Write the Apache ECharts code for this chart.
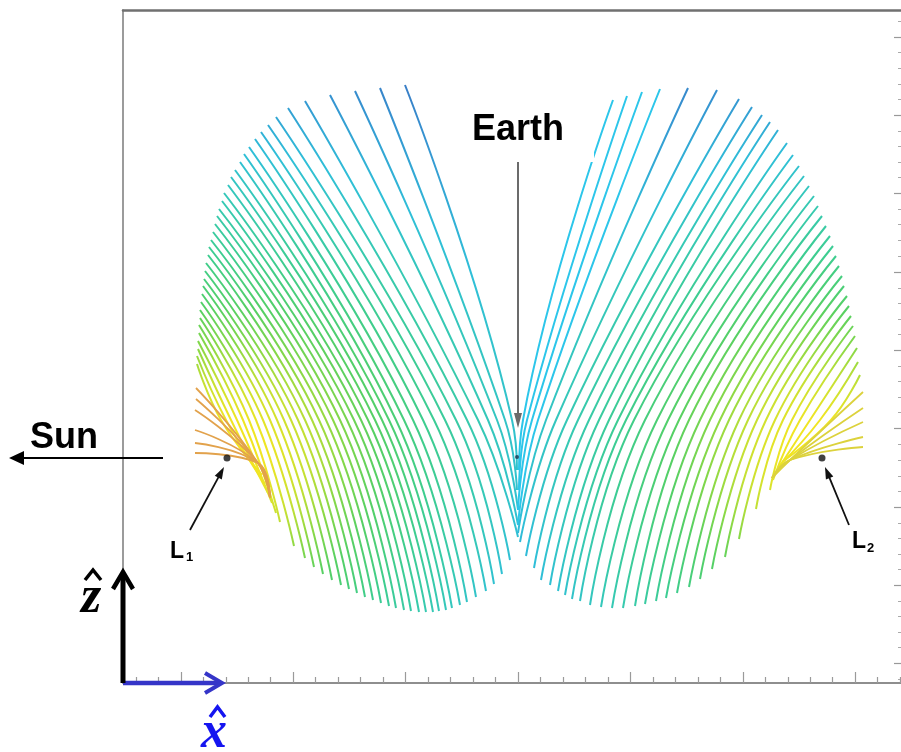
<!DOCTYPE html>
<html><head><meta charset="utf-8">
<script src="https://cdn.jsdelivr.net/npm/echarts@6/dist/echarts.min.js"></script>
<style>html,body{margin:0;padding:0;background:#fff}#c{width:901px;height:752px}</style>
</head><body><div id="c"></div>
<script>
// ---- data (x: along Sun-Earth line, z: out of plane; Earth at origin) ----
const leftTop = [[-11.3,37.3],[-13.8,37.0],[-16.3,36.7],[-18.8,36.3],[-21.3,35.7],[-23.0,35.0],[-24.2,34.1],[-25.0,33.3],[-25.7,32.6],[-26.3,31.9],[-26.9,31.1],[-27.4,30.4],[-27.8,29.6],[-28.3,28.8],[-28.7,28.1],[-29.0,27.3],[-29.4,26.5],[-29.6,25.7],[-29.9,24.9],[-30.1,24.2],[-30.3,23.4],[-30.5,22.6],[-30.7,21.8],[-30.9,21.1],[-31.0,20.3],[-31.2,19.5],[-31.3,18.7],[-31.4,17.9],[-31.5,17.2],[-31.6,16.4],[-31.7,15.6],[-31.8,14.8],[-31.8,14.0],[-31.9,13.3],[-31.9,12.5],[-32.0,11.7],[-32.0,10.9],[-32.1,10.2],[-32.1,9.4]];
const leftMid = [[-0.6,3.8],[-1.3,3.8],[-2.1,3.8],[-3.0,3.8],[-4.0,3.8],[-5.1,3.8],[-6.2,3.8],[-7.3,3.8],[-8.4,3.8],[-9.5,3.8],[-10.5,3.8],[-11.4,3.8],[-12.2,3.8],[-12.9,3.8],[-13.6,3.8],[-14.3,3.8],[-15.0,3.8],[-15.7,3.8],[-16.4,3.8],[-17.1,3.8],[-17.8,3.8],[-18.5,3.8],[-19.2,3.8],[-19.9,3.8],[-20.6,3.8],[-21.3,3.8],[-22.0,3.8],[-22.7,3.8],[-23.4,3.8],[-24.1,3.8],[-24.8,3.8],[-25.5,3.8],[-26.2,3.8],[-26.9,3.8],[-27.5,3.8],[-28.1,3.8],[-28.7,3.8],[-29.2,3.8],[-29.7,3.8]];
const leftBot = [[-0.1,-1.2],[-0.1,-3.2],[0.0,-5.2],[0.0,-6.7],[0.0,-7.9],[-0.8,-10.2],[-1.6,-11.6],[-2.4,-12.6],[-3.2,-13.3],[-4.2,-13.9],[-5.1,-14.4],[-5.8,-14.7],[-6.6,-15.0],[-7.2,-15.2],[-7.9,-15.3],[-8.5,-15.4],[-9.2,-15.4],[-9.9,-15.4],[-10.7,-15.3],[-11.4,-15.2],[-12.2,-15.0],[-12.9,-14.8],[-13.7,-14.5],[-14.5,-14.2],[-15.3,-13.9],[-16.1,-13.5],[-16.9,-13.1],[-17.7,-12.7],[-18.6,-12.2],[-19.5,-11.6],[-20.4,-10.9],[-21.3,-10.0],[-22.4,-8.8],[-23.8,-6.4],[-24.2,-5.5],[-24.6,-4.5],[-25.0,-3.5],[-25.3,-2.6],[-25.6,-1.7]];

const rightTop = [[9.5,35.8],[10.9,36.2],[12.4,36.6],[14.2,36.9],[17.0,37.0],[19.9,36.8],[22.1,35.9],[23.4,35.1],[24.4,34.3],[25.2,33.6],[26.0,32.8],[26.9,31.5],[27.5,30.3],[28.1,29.2],[28.6,28.2],[29.1,27.2],[29.6,26.2],[30.0,25.2],[30.4,24.2],[30.8,23.2],[31.2,22.2],[31.5,21.2],[31.8,20.2],[32.1,19.2],[32.4,18.2],[32.6,17.2],[32.9,16.2],[33.1,15.2],[33.3,14.2],[33.5,13.2],[33.7,12.2],[33.9,11.0],[34.0,9.6],[34.2,8.3]];
const rightMid = [[0.5,3.8],[0.9,3.8],[1.4,3.8],[2.0,3.8],[2.8,3.8],[3.8,3.8],[4.9,3.8],[6.0,3.8],[7.1,3.8],[8.1,3.8],[9.1,3.8],[10.0,3.8],[10.8,3.8],[11.6,3.8],[12.7,3.8],[13.9,3.8],[15.0,3.8],[16.1,3.8],[17.1,3.8],[18.2,3.8],[19.2,3.8],[20.2,3.8],[21.1,3.8],[22.1,3.8],[23.0,3.8],[23.9,3.8],[24.8,3.8],[25.7,3.8],[26.5,3.8],[27.4,3.8],[28.2,3.8],[29.2,3.8],[30.2,3.8],[31.3,3.8]];
const rightBot = [[0.1,-1.2],[0.1,-3.2],[0.0,-5.2],[0.0,-6.7],[0.0,-7.5],[0.2,-8.4],[0.8,-9.8],[1.6,-11.0],[2.3,-12.2],[3.2,-12.7],[4.0,-13.3],[4.7,-13.7],[5.4,-14.1],[6.2,-14.3],[7.2,-14.7],[8.3,-14.9],[9.4,-15.0],[10.5,-15.0],[11.7,-14.8],[12.7,-14.6],[13.8,-14.3],[14.8,-14.0],[15.9,-13.5],[17.1,-12.9],[18.2,-12.1],[19.4,-11.1],[20.7,-9.9],[22.1,-8.1],[23.8,-5.1],[25.2,-3.2],[25.5,-2.2],[25.8,-1.4],[26.1,-0.8],[26.4,-0.4]];

const l1StubStart = [[-32.2,7.0],[-32.2,5.9],[-32.3,4.8],[-32.3,2.8],[-32.3,1.5],[-32.3,0.5]];
const l1StubKnee = [-26.0,-0.5];
const l1StubEnd = [-24.8,-4.0];
const l2StubStart = [[34.5,6.6],[34.5,5.0],[34.5,3.6],[34.5,2.1],[34.5,1.1]];
const l2StubKnee = [27.2,-0.2];
const l2StubEnd = [25.4,-2.0];

const libPoints = [[-29.1,0],[30.4,0]];   // L1, L2
const earthPoint = [[-0.1,0.1]];

const xMajorTicks = [-33.72,-22.48,-11.24,0,11.24,22.48,33.72];
const xMinorTicks = [-38.21,-35.96,-31.47,-29.22,-26.98,-24.73,-20.23,-17.98,-15.74,-13.49,-8.99,-6.74,-4.50,-2.25,2.25,4.50,6.74,8.99,13.49,15.74,17.98,20.23,24.73,26.98,29.22,31.47,35.96,38.21];
const zMajorTicks = [42.1,34.3,26.5,18.6,10.8,3.0,-4.9,-12.7,-20.5];
const zMinorTicks = [43.7,40.6,39.0,37.4,35.9,32.7,31.2,29.6,28.1,24.9,23.4,21.8,20.2,17.0,15.5,13.9,12.4,9.2,7.7,6.1,4.6,1.4,-0.2,-1.8,-3.3,-6.5,-8.0,-9.6,-11.1,-14.3,-15.8,-17.4,-18.9,-22.1];

// annotation anchors (data units)
const sunArrow = [[-35.5,0],[-50.9,0]];
const earthArrow = [[0,29.8],[0,3.0]];
const l1Arrow = [[-32.8,-7.2],[-29.4,-0.9]];
const l2Arrow = [[33.1,-6.7],[30.7,-0.9]];
const xHatArrow = [[-39.5,-22.5],[-29.6,-22.5]];
const zHatArrow = [[-39.5,-22.5],[-39.5,-11.4]];

// ---- chart ----
const chart = echarts.init(document.getElementById('c'), null, {renderer:'canvas', width:901, height:752});
const XMIN=-39.5, XMAX=38.3, ZMIN=-22.5, ZMAX=44.8;
const noLbl = {show:false};
const base = {
  animation:false,
  grid:{left:123, right:0, top:10, bottom:69, containLabel:false},
  xAxis:[
    {type:'value', min:XMIN, max:XMAX, position:'bottom', axisLine:{show:true, onZero:false, lineStyle:{color:'#6a6a6a', width:1.5}},
     axisTick:{show:true, inside:true, length:11, customValues:xMajorTicks, lineStyle:{color:'#9a9a9a', width:1.2}}, axisLabel:noLbl, splitLine:{show:false}},
    {type:'value', min:XMIN, max:XMAX, position:'bottom', axisLine:{show:false, onZero:false},
     axisTick:{show:true, inside:true, length:6, customValues:xMinorTicks, lineStyle:{color:'#9a9a9a', width:1.2}}, axisLabel:noLbl, splitLine:{show:false}},
    {type:'value', min:XMIN, max:XMAX, position:'top', axisLine:{show:true, onZero:false, lineStyle:{color:'#707070', width:2.5}},
     axisTick:{show:false}, axisLabel:noLbl, splitLine:{show:false}}
  ],
  yAxis:[
    {type:'value', min:ZMIN, max:ZMAX, position:'left', axisLine:{show:true, onZero:false, lineStyle:{color:'#7a7a7a', width:1.5}},
     axisTick:{show:false}, axisLabel:noLbl, splitLine:{show:false}},
    {type:'value', min:ZMIN, max:ZMAX, position:'right', axisLine:{show:false, onZero:false},
     axisTick:{show:true, inside:true, length:7, customValues:zMajorTicks, lineStyle:{color:'#999', width:1.2}}, axisLabel:noLbl, splitLine:{show:false}},
    {type:'value', min:ZMIN, max:ZMAX, position:'right', axisLine:{show:false, onZero:false},
     axisTick:{show:true, inside:true, length:3, customValues:zMinorTicks, lineStyle:{color:'#aaa', width:1}}, axisLabel:noLbl, splitLine:{show:false}}
  ],
  series:[]
};
chart.setOption(base);
const P = v => chart.convertToPixel({xAxisIndex:0, yAxisIndex:0}, v);

// colour by distance from the libration point
const R = 430;
const stopsPx = [[0,'#f5e41a'],[40,'#efe524'],[80,'#c4e034'],[115,'#86d848'],[150,'#56d064'],[200,'#3ecd8e'],[255,'#36c9b4'],[305,'#2fbfd8'],[370,'#3596d2'],[430,'#3b74c2']];
function radial(c){
  return new echarts.graphic.RadialGradient(c[0], c[1], R, stopsPx.map(s=>({offset:s[0]/R, color:s[1]})), true);
}
const c1 = P(libPoints[0]), c2 = P(libPoints[1]);
const g1 = radial(c1), g2 = radial(c2);

const series = [];
function curve(data, color, w){
  series.push({type:'line', data, smooth:0.45, symbol:'none', silent:true, z:2,
    lineStyle:{width:w||2, color}});
}
for (let i=0;i<leftTop.length;i++) curve([leftTop[i], leftMid[i], leftBot[i]], g1);
for (let i=0;i<rightTop.length;i++) curve([rightTop[i], rightMid[i], rightBot[i]], i<4 ? '#2cc6ea' : g2);
l1StubStart.forEach(s => curve([s, l1StubKnee, l1StubEnd], '#e2a24c', 1.8));
l2StubStart.forEach(s => curve([s, l2StubKnee, l2StubEnd], '#dcd23c', 1.8));
series.push({type:'scatter', data:libPoints, symbolSize:7, itemStyle:{color:'#111'}, z:5, silent:true});
series.push({type:'scatter', data:earthPoint, symbolSize:4, itemStyle:{color:'#1d3550'}, z:5, silent:true});

// ---- annotations ----
const graphic = [];
function arrowLine(pair, color, lw, hl, hw){
  const a = P(pair[0]), b = P(pair[1]);
  const dx=b[0]-a[0], dy=b[1]-a[1], L=Math.hypot(dx,dy), ux=dx/L, uy=dy/L;
  const bx=b[0]-ux*hl, by=b[1]-uy*hl;
  graphic.push({type:'line', z:50, shape:{x1:a[0],y1:a[1],x2:bx+ux*1,y2:by+uy*1}, style:{stroke:color, lineWidth:lw}});
  graphic.push({type:'polygon', z:50, shape:{points:[[b[0],b[1]],[bx-uy*hw,by+ux*hw],[bx+uy*hw,by-ux*hw]]}, style:{fill:color}});
}
function chevronArrow(pair, color, lw, hl, hw){
  const a = P(pair[0]), b = P(pair[1]);
  const dx=b[0]-a[0], dy=b[1]-a[1], L=Math.hypot(dx,dy), ux=dx/L, uy=dy/L;
  const bx=b[0]-ux*hl, by=b[1]-uy*hl;
  graphic.push({type:'line', z:60, shape:{x1:a[0],y1:a[1],x2:b[0]-ux*2,y2:b[1]-uy*2}, style:{stroke:color, lineWidth:lw}});
  graphic.push({type:'polyline', z:60, shape:{points:[[bx-uy*hw,by+ux*hw],[b[0],b[1]],[bx+uy*hw,by-ux*hw]]}, style:{stroke:color, lineWidth:lw-0.5, lineJoin:'miter', fill:null}});
}
function text(v, str, font, color, align, extra){
  const p = P(v);
  graphic.push({type:'text', z:70, x:p[0], y:p[1], style:Object.assign({text:str, font, fill:color, align, verticalAlign:'middle'}, extra||{})});
}
function hat(pts, color){
  graphic.push({type:'polyline', z:70, shape:{points:pts.map(P)}, style:{stroke:color, lineWidth:3.5, fill:null, lineJoin:'miter'}});
}
const SANS = '"Liberation Sans", Arial, Helvetica, sans-serif';
const SERIF = '"Liberation Serif", "Times New Roman", serif';

text([0,32.8], 'Earth', 'bold 36px '+SANS, '#000', 'center', {backgroundColor:'#fff', padding:[14,30,14,30]});
arrowLine(earthArrow, '#6b6b6b', 2, 15, 4);
text([-48.8,1.95], 'Sun', 'bold 36px '+SANS, '#000', 'left');
arrowLine(sunArrow, '#000', 2, 15, 7);
arrowLine(l1Arrow, '#111', 1.8, 12, 4);
arrowLine(l2Arrow, '#111', 1.8, 12, 4);
text([-34.8,-9.35], 'L', 'bold 23px '+SANS, '#000', 'left');
text([-33.2,-9.95], '1', 'bold 13px '+SANS, '#000', 'left');
text([33.4,-8.35], 'L', 'bold 23px '+SANS, '#000', 'left');
text([34.9,-9.0], '2', 'bold 13px '+SANS, '#000', 'left');
chevronArrow(xHatArrow, '#3535c8', 4.5, 17, 10);
chevronArrow(zHatArrow, '#000', 5, 17, 10);
text([-30.4,-27.6], 'x', 'italic bold 52px '+SERIF, '#1515f0', 'center');
hat([[-30.8,-25.9],[-30.05,-24.9],[-29.3,-25.9]], '#1515f0');
text([-42.7,-14.1], 'z', 'italic bold 52px '+SERIF, '#000', 'center');
hat([[-43.3,-12.2],[-42.5,-11.2],[-41.7,-12.2]], '#000');

chart.setOption({series, graphic});
</script></body></html>
